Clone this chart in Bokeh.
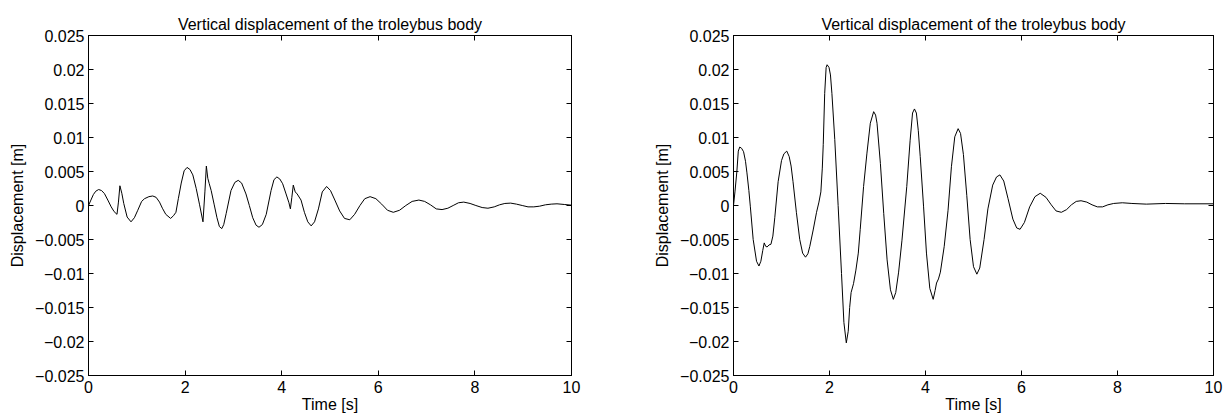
from bokeh.plotting import figure
from bokeh.layouts import row
from bokeh.models import ColumnDataSource, FixedTicker, LinearAxis, Range1d
from bokeh.embed import file_html
from bokeh.resources import INLINE

# ---- data ----
left_t = [0.00, 0.05, 0.10, 0.15, 0.21, 0.27, 0.33, 0.40, 0.47, 0.53, 0.59, 0.62, 0.65, 0.69,
          0.73, 0.80, 0.88, 0.95, 1.02, 1.10, 1.16, 1.25, 1.33, 1.40, 1.47, 1.53, 1.60, 1.70,
          1.76, 1.81, 1.86, 1.92, 1.98, 2.04, 2.10, 2.16, 2.23, 2.30, 2.37, 2.41, 2.44, 2.47,
          2.50, 2.54, 2.60, 2.66, 2.71, 2.76, 2.80, 2.85, 2.95, 3.03, 3.10, 3.17, 3.26, 3.33,
          3.40, 3.47, 3.53, 3.60, 3.68, 3.78, 3.84, 3.90, 3.96, 4.02, 4.09, 4.15, 4.18, 4.21,
          4.24, 4.28, 4.32, 4.40, 4.47, 4.54, 4.61, 4.68, 4.76, 4.84, 4.93, 5.01, 5.10, 5.20,
          5.30, 5.41, 5.51, 5.62, 5.72, 5.83, 5.95, 6.07, 6.19, 6.31, 6.44, 6.57, 6.70, 6.84,
          6.96, 7.08, 7.20, 7.32, 7.44, 7.55, 7.66, 7.77, 7.90, 8.02, 8.15, 8.27, 8.40, 8.51,
          8.62, 8.74, 8.86, 8.98, 9.10, 9.22, 9.34, 9.46, 9.58, 9.70, 9.85, 10.0]
left_y = [0.0000, 0.0008, 0.0016, 0.0021, 0.00235, 0.0022, 0.00175, 0.0008, -0.0002, -0.0009,
          -0.0013, 0.0005, 0.0029, 0.0018, 0.0003, -0.0017, -0.0024, -0.0018, -0.0007, 0.0006,
          0.0010, 0.0013, 0.0014, 0.0012, 0.0005, -0.0004, -0.0013, -0.0019, -0.0015, -0.0010,
          0.0010, 0.0033, 0.0051, 0.0056, 0.0053, 0.0045, 0.0025, 0.0001, -0.0024, 0.0020,
          0.0058, 0.0040, 0.0032, 0.0022, 0.0002, -0.0018, -0.0031, -0.0034, -0.0028, -0.0012,
          0.0022, 0.0034, 0.0037, 0.0033, 0.0017, 0.0000, -0.0018, -0.0029, -0.0032, -0.0028,
          -0.0013, 0.0022, 0.0038, 0.0042, 0.0039, 0.0032, 0.0017, 0.0004, -0.0005, 0.0012,
          0.0030, 0.0020, 0.0017, 0.0008, -0.0010, -0.0024, -0.0030, -0.0024, -0.0005, 0.0020,
          0.0028, 0.0022, 0.0008, -0.0008, -0.0019, -0.0021, -0.0013, 0.0000, 0.0010, 0.0013,
          0.0010, 0.0002, -0.0007, -0.0010, -0.0007, 0.0000, 0.0006, 0.0008, 0.0006, 0.0001,
          -0.0005, -0.0006, -0.0004, 0.0000, 0.0004, 0.0005, 0.0003, 0.0000, -0.0003, -0.0004,
          -0.0002, 0.0001, 0.0003, 0.00035, 0.0002, 0.0000, -0.0002, -0.0002, -0.0001, 0.0001,
          0.0002, 0.00025, 0.00015, 0.00005]

right_t = [0.00, 0.03, 0.07, 0.10, 0.13, 0.17, 0.21, 0.25, 0.28, 0.32, 0.35, 0.41, 0.48, 0.53,
           0.57, 0.61, 0.64, 0.67, 0.70, 0.74, 0.78, 0.82, 0.86, 0.93, 1.00, 1.05, 1.11, 1.16,
           1.20, 1.24, 1.31, 1.38, 1.44, 1.50, 1.55, 1.59, 1.66, 1.73, 1.78, 1.82, 1.85, 1.87,
           1.90, 1.93, 1.95, 1.99, 2.02, 2.05, 2.11, 2.18, 2.25, 2.30, 2.35, 2.39, 2.42, 2.45,
           2.50, 2.55, 2.60, 2.64, 2.71, 2.78, 2.85, 2.92, 2.96, 2.99, 3.06, 3.13, 3.20, 3.27,
           3.33, 3.38, 3.44, 3.51, 3.61, 3.68, 3.73, 3.77, 3.81, 3.85, 3.89, 3.96, 4.02, 4.09,
           4.16, 4.20, 4.23, 4.27, 4.31, 4.39, 4.47, 4.54, 4.61, 4.68, 4.73, 4.79, 4.86, 4.93,
           5.00, 5.07, 5.13, 5.22, 5.30, 5.40, 5.48, 5.55, 5.63, 5.72, 5.82, 5.90, 5.97, 6.06,
           6.17, 6.28, 6.39, 6.51, 6.62, 6.72, 6.83, 6.94, 7.04, 7.14, 7.24, 7.36, 7.47, 7.58,
           7.69, 7.80, 7.92, 8.10, 8.30, 8.60, 9.00, 9.40, 10.0]
right_y = [0.0000, 0.0020, 0.0050, 0.0080, 0.0086, 0.0084, 0.0079, 0.0065, 0.0048, 0.0022,
           -0.0001, -0.0050, -0.0082, -0.0089, -0.0082, -0.0066, -0.0055, -0.0060, -0.0061,
           -0.0058, -0.0057, -0.0045, -0.0018, 0.0035, 0.0066, 0.0076, 0.0080, 0.0072, 0.0058,
           0.0035, -0.0010, -0.0050, -0.0070, -0.0076, -0.0071, -0.0060, -0.0036, -0.0010,
           0.0005, 0.0020, 0.0055, 0.0090, 0.0165, 0.0203, 0.0207, 0.0203, 0.0192, 0.0165,
           0.0097, 0.0000, -0.0100, -0.0172, -0.0202, -0.0185, -0.0150, -0.0128, -0.0115,
           -0.0095, -0.0070, -0.0035, 0.0028, 0.0077, 0.0121, 0.0138, 0.0133, 0.0121, 0.0062,
           -0.0012, -0.0080, -0.0124, -0.0138, -0.0128, -0.0098, -0.0051, 0.0028, 0.0096,
           0.0136, 0.0142, 0.0136, 0.0110, 0.0072, -0.0002, -0.0070, -0.0122, -0.0138, -0.0125,
           -0.0114, -0.0108, -0.0098, -0.0060, -0.0007, 0.0057, 0.0101, 0.0113, 0.0106, 0.0075,
           0.0015, -0.0050, -0.0090, -0.0101, -0.0092, -0.0050, -0.0005, 0.0030, 0.0042,
           0.0045, 0.0036, 0.0010, -0.0020, -0.0033, -0.0035, -0.0025, -0.0002, 0.0013, 0.0018,
           0.0012, 0.0001, -0.0008, -0.0010, -0.0006, 0.0001, 0.0006, 0.0007, 0.0005, 0.0001,
           -0.0002, -0.0002, 0.0001, 0.0003, 0.0004, 0.0003, 0.0002, 0.0003, 0.00025, 0.00025]

x_ticks = [0, 2, 4, 6, 8, 10]
y_ticks = [-0.025, -0.02, -0.015, -0.01, -0.005, 0, 0.005, 0.01, 0.015, 0.02, 0.025]
y_labels = ["\u22120.025", "\u22120.02", "\u22120.015", "\u22120.01", "\u22120.005", "0",
            "0.005", "0.01", "0.015", "0.02", "0.025"]

title_text = "Vertical displacement of the troleybus body"
x_label = "Time [s]"
y_label = "Displacement [m]"

FONT = "Liberation Sans"
FS = "16px"


def make_fig(t, y, width, left_border, right_border):
    p = figure(width=width, height=417, output_backend="svg", toolbar_location=None,
               x_range=Range1d(0, 10), y_range=Range1d(-0.025, 0.025),
               min_border_left=left_border, min_border_right=right_border,
               min_border_top=35, min_border_bottom=42,
               title=title_text)
    p.title.align = "center"
    p.title.text_font = FONT
    p.title.text_font_size = FS
    p.title.text_font_style = "normal"
    p.title.text_color = "black"
    p.title.offset = 0
    p.title.standoff = 5
    p.grid.visible = False
    p.outline_line_color = "black"
    p.outline_line_width = 1
    p.background_fill_color = "white"
    p.border_fill_color = "white"

    overrides = {tk: lb for tk, lb in zip(y_ticks, y_labels)}

    for ax in p.xaxis:
        ax.ticker = FixedTicker(ticks=x_ticks)
        ax.axis_label = x_label
        ax.major_label_standoff = 5
        ax.axis_label_standoff = 0
    for ax in p.yaxis:
        ax.ticker = FixedTicker(ticks=y_ticks)
        ax.major_label_overrides = overrides
        ax.axis_label = y_label
        ax.major_label_standoff = 4
        ax.axis_label_standoff = 6
    for ax in list(p.xaxis) + list(p.yaxis):
        ax.major_tick_in = 5
        ax.major_tick_out = 0
        ax.minor_tick_in = 0
        ax.minor_tick_out = 0
        ax.axis_line_color = "black"
        ax.major_tick_line_color = "black"
        ax.major_label_text_font = FONT
        ax.major_label_text_font_size = FS
        ax.major_label_text_color = "black"
        ax.axis_label_text_font = FONT
        ax.axis_label_text_font_size = FS
        ax.axis_label_text_font_style = "normal"
        ax.axis_label_text_color = "black"

    top = LinearAxis(ticker=FixedTicker(ticks=x_ticks),
                     major_label_overrides={tk: "" for tk in x_ticks},
                     major_tick_in=5, major_tick_out=0, minor_tick_in=0, minor_tick_out=0,
                     major_label_standoff=0, axis_line_color="black")
    right = LinearAxis(ticker=FixedTicker(ticks=y_ticks),
                       major_label_overrides={tk: "" for tk in y_ticks},
                       major_tick_in=5, major_tick_out=0, minor_tick_in=0, minor_tick_out=0,
                       major_label_standoff=0, axis_line_color="black")
    p.add_layout(top, "above")
    p.add_layout(right, "right")

    src = ColumnDataSource(data=dict(t=t, y=y))
    p.line("t", "y", source=src, line_color="black", line_width=1)
    return p


p1 = make_fig(left_t, left_y, 651, 88, 80)
p2 = make_fig(right_t, right_y, 578, 80, 16)
layout = row(p1, p2, spacing=0)

open("out.html", "w").write(file_html(layout, INLINE))
